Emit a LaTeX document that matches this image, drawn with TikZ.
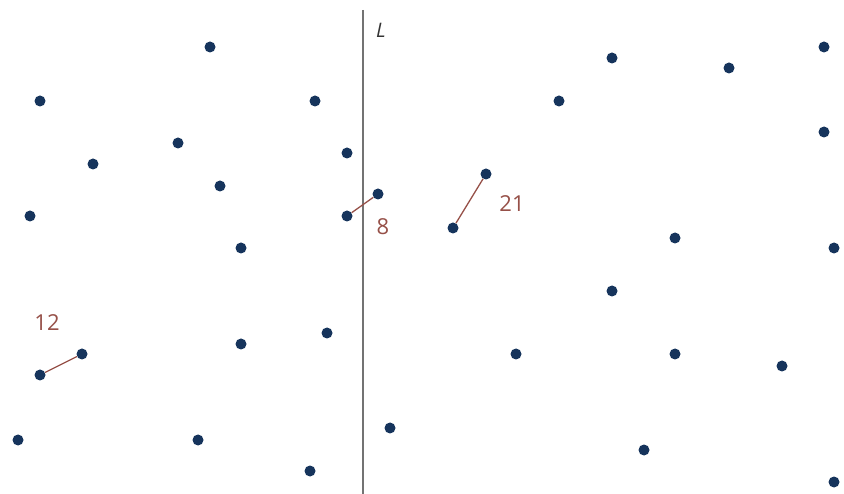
\documentclass[tikz,border=0pt]{standalone}
\usepackage{fontspec}
\setsansfont{Open Sans}
\begin{document}
\begin{tikzpicture}[x=1pt,y=-1pt,
  pt/.style={circle,fill=dotblue,inner sep=0pt,minimum size=11pt},
  seg/.style={draw=segred,line width=1.3pt},
  num/.style={text=segred,font=\sffamily\fontsize{22}{22}\selectfont,inner sep=0pt},
  axis/.style={draw=axisgray,line width=1.5pt}]
\definecolor{dotblue}{RGB}{22,52,92}
\definecolor{segred}{RGB}{150,80,72}
\definecolor{axisgray}{RGB}{115,115,115}
\useasboundingbox (0,0) rectangle (844,494);
\coordinate (Ltop) at (363,10);
\coordinate (Lbot) at (363,494);
\draw[axis] (Ltop) -- (Lbot);
\node[font=\sffamily\itshape\fontsize{20}{20}\selectfont,inner sep=0pt,text=black!80] (Llab) at (381,30) {L};
\foreach \n/\x/\y in {p1/210/47,p2/40/101,p3/315/101,p4/178/143,p5/93/164,p6/347/153,p7/220/186,p8/30/216,p9/347/216,p10/378/194,p11/241/248,p12/40/375,p13/82/354,p14/327/333,p15/241/344,p16/18/440,p17/198/440,p18/310/471,p19/390/428,
q1/612/58,q2/729/68,q3/824/47,q4/559/101,q5/824/132,q6/486/174,q7/453/228,q8/675/238,q9/834/248,q10/612/291,q11/516/354,q12/675/354,q13/782/366,q14/644/450,q15/834/482}
  \node[pt] (\n) at (\x,\y) {};
\draw[seg] (p9) -- (p10);
\draw[seg] (q7) -- (q6);
\draw[seg] (p12) -- (p13);
\node[num] (l8) at (383,227) {8};
\node[num] (l21) at (512,204) {21};
\node[num] (l12) at (47,323) {12};
\end{tikzpicture}
\end{document}
